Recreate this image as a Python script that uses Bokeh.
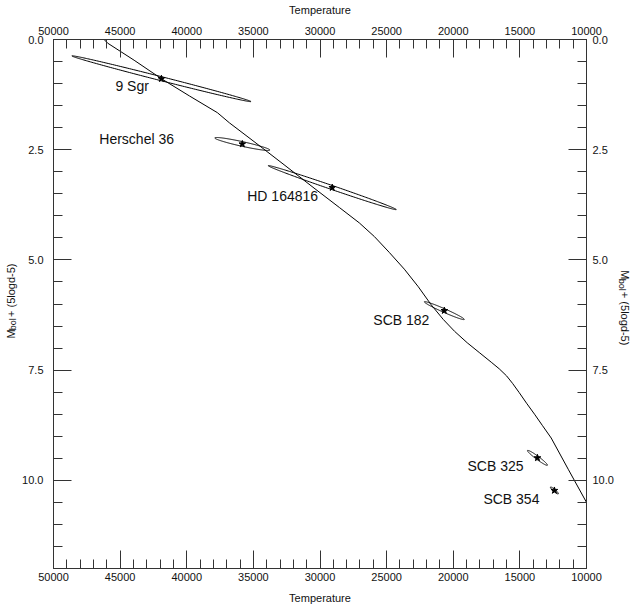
import numpy as np
from bokeh.plotting import figure
from bokeh.layouts import row
from bokeh.models import (Range1d, LinearAxis, FixedTicker, PrintfTickFormatter,
                          ColumnDataSource)
from bokeh.core.properties import value
from bokeh.embed import file_html
from bokeh.resources import INLINE

# ---------------- data ----------------
# calibration track: temperature vs Mbol + (5 log d - 5)
track_temp = [46200, 45950, 43950, 41900, 39800, 37700, 36800, 34800, 32700,
              30450, 28550, 27050, 25920, 24800, 23670, 22620, 21650, 20750,
              19900, 18950, 18050, 17150, 16550, 16000, 15550, 15050, 14500,
              13900, 13300, 12650, 11350, 10000]
track_mbol = [0.00, 0.08, 0.47, 0.89, 1.28, 1.66, 1.89, 2.35, 2.84,
              3.37, 3.81, 4.16, 4.47, 4.83, 5.21, 5.61, 6.02, 6.35,
              6.62, 6.88, 7.10, 7.32, 7.47, 7.63, 7.80, 8.01, 8.25,
              8.50, 8.76, 9.04, 9.76, 10.50]

# stars with error ellipses (sigma in T, sigma in M, correlation)
star_names = ["9 Sgr", "Herschel 36", "HD 164816", "SCB 182", "SCB 325", "SCB 354"]
star_temp = [41900, 35830, 29080, 20670, 13680, 12410]
star_mbol = [0.89, 2.37, 3.36, 6.15, 9.49, 10.23]
sigma_temp = [6720, 2065, 4805, 1500, 750, 300]
sigma_mbol = [0.52, 0.147, 0.50, 0.204, 0.170, 0.079]
corr = [-0.9959, -0.931, -0.9954, -0.9757, -0.964, -0.925]

# axis ticks
x_major = [50000, 45000, 40000, 35000, 30000, 25000, 20000, 15000, 10000]
x_minor = list(range(10000, 50001, 1000))
y_major = [0.0, 2.5, 5.0, 7.5, 10.0]
y_minor = [i * 0.5 for i in range(0, 25)]

# label placement (screen pixels relative to each star)
label_dx = [-46, -143, -85, -71, -70, -71]
label_dy = [7, -5, 8, 9, 8, 9]

# ---------------- layout constants ----------------
FONT = "Liberation Sans"
AX = "#333333"
TXT = "#111111"
FW, FH = 533, 529
TOP, BOT = 39, 38
H = TOP + FH + BOT
WL, WR = 19, 24          # side strips holding the y-axis titles
BL, BR = 32, 28          # main figure borders

p = figure(frame_width=FW, frame_height=FH,
           x_range=Range1d(50000, 10000), y_range=Range1d(12, 0),
           output_backend="svg", toolbar_location=None,
           min_border_left=BL, min_border_right=BR,
           min_border_top=TOP, min_border_bottom=BOT,
           x_axis_location=None, y_axis_location=None,
           background_fill_color="white", border_fill_color="white")
p.outline_line_color = None
p.xgrid.visible = False
p.ygrid.visible = False


def style_axis(ax, ticker, fmt, standoff):
    ax.ticker = ticker
    ax.formatter = fmt
    ax.major_tick_in = 18
    ax.major_tick_out = 0
    ax.minor_tick_in = 9
    ax.minor_tick_out = 0
    ax.axis_line_color = AX
    ax.major_tick_line_color = AX
    ax.minor_tick_line_color = AX
    ax.axis_line_width = 1
    ax.major_label_text_font = FONT
    ax.major_label_text_font_size = "11px"
    ax.major_label_text_color = TXT
    ax.major_label_standoff = standoff
    ax.axis_label_text_font = FONT
    ax.axis_label_text_font_size = "11px"
    ax.axis_label_text_font_style = "normal"
    ax.axis_label_text_color = TXT


xt = FixedTicker(ticks=x_major, minor_ticks=x_minor)
yt = FixedTicker(ticks=y_major, minor_ticks=y_minor)
xf = PrintfTickFormatter(format="%d")
yf = PrintfTickFormatter(format="%.1f")

ax_top = LinearAxis(axis_label="Temperature")
style_axis(ax_top, xt, xf, 5)
ax_top.axis_label_standoff = 8
p.add_layout(ax_top, "above")

ax_bot = LinearAxis(axis_label="Temperature")
style_axis(ax_bot, xt, xf, 4)
ax_bot.axis_label_standoff = 8
p.add_layout(ax_bot, "below")

ax_left = LinearAxis()
style_axis(ax_left, yt, yf, 10)
p.add_layout(ax_left, "left")

ax_right = LinearAxis()
style_axis(ax_right, yt, yf, 6)
p.add_layout(ax_right, "right")

# track
p.line(track_temp, track_mbol, line_color="black", line_width=1)

# error ellipses from sigma / correlation
t = np.linspace(0, 2 * np.pi, 241)
ex, ey = [], []
for T, M, sT, sM, r in zip(star_temp, star_mbol, sigma_temp, sigma_mbol, corr):
    ex.append(T + sT * np.cos(t))
    ey.append(M + sM * (r * np.cos(t) + np.sqrt(1 - r * r) * np.sin(t)))
p.multi_line(ex, ey, line_color="black", line_width=1)

# star markers
p.scatter(star_temp, star_mbol, marker="star", size=7, fill_color="black",
          line_color="black")

# star labels
src = ColumnDataSource(dict(x=star_temp, y=star_mbol, name=star_names,
                            dx=label_dx, dy=label_dy))
p.text(x="x", y="y", text="name", x_offset="dx", y_offset="dy", source=src,
       text_font=value(FONT), text_font_size="14px", text_color=TXT,
       text_align="left", text_baseline="middle")


# ---------------- side strips with the y-axis titles ----------------
def strip(w):
    f = figure(width=w, height=H, x_range=Range1d(0, w), y_range=Range1d(H, 0),
               output_backend="svg", toolbar_location=None, min_border=0,
               x_axis_location=None, y_axis_location=None,
               background_fill_color="white", border_fill_color="white")
    f.outline_line_color = None
    f.xgrid.visible = False
    f.ygrid.visible = False
    return f


L_TOTAL = 78.2
YC = TOP + FH / 2.0
pieces = [("M", "11px", 0.0, 0.0), ("bol", "9px", 9.6, 2.5),
          ("+ (5logd-5)", "11px", 24.7, 0.0)]

left = strip(WL)
bx = 10.0
for txt, fs, along, sub in pieces:
    left.text(x=[bx + sub], y=[YC + L_TOTAL / 2 - along], text=[txt],
              angle=np.pi / 2, text_font=value(FONT), text_font_size=fs,
              text_color=TXT, text_align="left", text_baseline="alphabetic")

right = strip(WR)
bx = 8.0
for txt, fs, along, sub in pieces:
    right.text(x=[bx - sub], y=[YC - L_TOTAL / 2 + along], text=[txt],
               angle=-np.pi / 2, text_font=value(FONT), text_font_size=fs,
               text_color=TXT, text_align="left", text_baseline="alphabetic")

layout = row(left, p, right, spacing=0)

open("out.html", "w").write(file_html(layout, INLINE))
